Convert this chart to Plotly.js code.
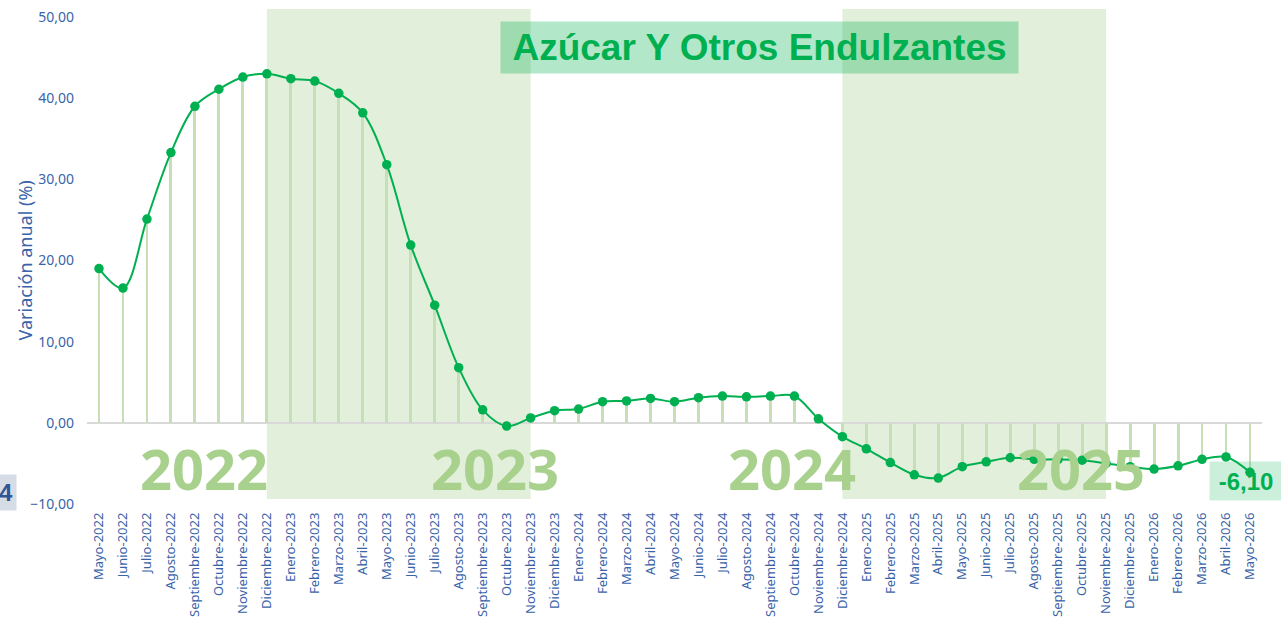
<!DOCTYPE html>
<html>
<head>
<meta charset="utf-8">
<script src="https://cdn.plot.ly/plotly-3.0.1.min.js"></script>
<style>
html,body{margin:0;padding:0;background:#fff;}
#chart{width:1281px;height:620px;}
</style>
</head>
<body>
<div id="chart"></div>
<script>
const months = [
  "Mayo-2022","Junio-2022","Julio-2022","Agosto-2022","Septiembre-2022","Octubre-2022","Noviembre-2022","Diciembre-2022",
  "Enero-2023","Febrero-2023","Marzo-2023","Abril-2023","Mayo-2023","Junio-2023","Julio-2023","Agosto-2023","Septiembre-2023","Octubre-2023","Noviembre-2023","Diciembre-2023",
  "Enero-2024","Febrero-2024","Marzo-2024","Abril-2024","Mayo-2024","Junio-2024","Julio-2024","Agosto-2024","Septiembre-2024","Octubre-2024","Noviembre-2024","Diciembre-2024",
  "Enero-2025","Febrero-2025","Marzo-2025","Abril-2025","Mayo-2025","Junio-2025","Julio-2025","Agosto-2025","Septiembre-2025","Octubre-2025","Noviembre-2025","Diciembre-2025",
  "Enero-2026","Febrero-2026","Marzo-2026","Abril-2026","Mayo-2026"
];
const variacion = [
  19.0, 16.6, 25.1, 33.3, 39.0, 41.1, 42.6, 43.0,
  42.4, 42.1, 40.6, 38.2, 31.8, 21.9, 14.5, 6.8, 1.6, -0.4, 0.6, 1.5,
  1.7, 2.6, 2.7, 3.0, 2.6, 3.1, 3.3, 3.2, 3.3, 3.3, 0.5, -1.7,
  -3.2, -4.9, -6.4, -6.8, -5.4, -4.8, -4.3, -4.5, -4.5, -4.6, -5.0, -5.4,
  -5.7, -5.3, -4.5, -4.2, -6.1
];
const yearLabels = ["2022", "2023", "2024", "2025"];
const chartTitle = "Azúcar Y Otros Endulzantes";
const lastValueLabel = "-6,10";
const sideLabel = "4";
const yTitle = "Variación anual (%)";

const green = "#00b050";
const stemColor = "#c5e0b4";
const shade = "#e2efda";
const blue = "#3a63a8";

const stems = {
  type: "bar",
  x: months,
  y: variacion,
  width: 0.12,
  marker: {color: stemColor, line: {width: 0}},
  hoverinfo: "skip"
};
const line = {
  type: "scatter",
  mode: "lines+markers",
  x: months,
  y: variacion,
  line: {color: green, width: 2, shape: "spline", smoothing: 1},
  marker: {color: green, size: 9.5},
  hoverinfo: "skip",
  cliponaxis: false
};

const yearX = [0.0996, 0.347, 0.600, 0.846];
const yearAnn = yearLabels.map((t, i) => ({
  xref: "paper", yref: "paper", x: yearX[i], y: 0.074,
  xanchor: "center", yanchor: "middle",
  text: t, showarrow: false,
  font: {family: "Open Sans", size: 56, color: "#a9d18e", weight: 700}
}));

const layout = {
  width: 1281, height: 620,
  margin: {l: 87, r: 19, t: 17, b: 116},
  paper_bgcolor: "#ffffff",
  plot_bgcolor: "rgba(0,0,0,0)",
  showlegend: false,
  separators: ",.",
  bargap: 0,
  xaxis: {
    type: "category",
    range: [-0.5, 48.5],
    tickangle: -90,
    showgrid: false, zeroline: false, showline: false,
    ticks: "",
    ticklabelstandoff: 5,
    tickfont: {family: "Noto Sans", size: 13, color: blue},
    fixedrange: true
  },
  yaxis: {
    range: [-10, 50],
    dtick: 10,
    tickformat: ".2f",
    showgrid: false,
    zeroline: true, zerolinecolor: "#d9d9d9", zerolinewidth: 2,
    showline: false,
    ticks: "",
    ticklabelstandoff: 12,
    tickfont: {family: "Noto Sans", size: 14, color: blue},
    fixedrange: true
  },
  shapes: [
    {type: "rect", xref: "x", yref: "paper", x0: 7, x1: 18, y0: 0.0103, y1: 1.0164, fillcolor: shade, line: {width: 0}, layer: "below"},
    {type: "rect", xref: "x", yref: "paper", x0: 31, x1: 42, y0: 0.0103, y1: 1.0164, fillcolor: shade, line: {width: 0}, layer: "below"}
  ],
  annotations: yearAnn.concat([
    {
      xref: "paper", yref: "paper", x: -0.0528, y: 0.5,
      xanchor: "center", yanchor: "middle", textangle: -90,
      text: yTitle, showarrow: false,
      font: {family: "Noto Sans", size: 18, color: blue}
    },
    {
      xref: "paper", yref: "paper", x: 0.5723, y: 0.9374,
      xanchor: "center", yanchor: "middle",
      width: 517, height: 51, borderpad: 0,
      text: chartTitle, showarrow: false,
      bgcolor: "rgba(0,176,80,0.3)",
      font: {family: "Liberation Sans", size: 37, color: green, weight: 700}
    },
    {
      xref: "paper", yref: "paper", x: 0.9549, y: 0.0472,
      xanchor: "left", yanchor: "middle",
      width: 72, height: 38, borderpad: 0,
      text: lastValueLabel, showarrow: false,
      bgcolor: "rgba(0,176,80,0.2)",
      font: {family: "Liberation Sans", size: 24, color: green, weight: 700}
    },
    {
      xref: "paper", yref: "paper", x: -0.0596, y: 0.0226,
      xanchor: "right", yanchor: "middle",
      width: 17, height: 35, borderpad: 0, align: "left",
      text: sideLabel, showarrow: false,
      bgcolor: "#d6dce5",
      font: {family: "Liberation Sans", size: 24, color: "#2f5597", weight: 700}
    }
  ])
};

Plotly.newPlot("chart", [stems, line], layout, {displayModeBar: false, staticPlot: true});
</script>
</body>
</html>
